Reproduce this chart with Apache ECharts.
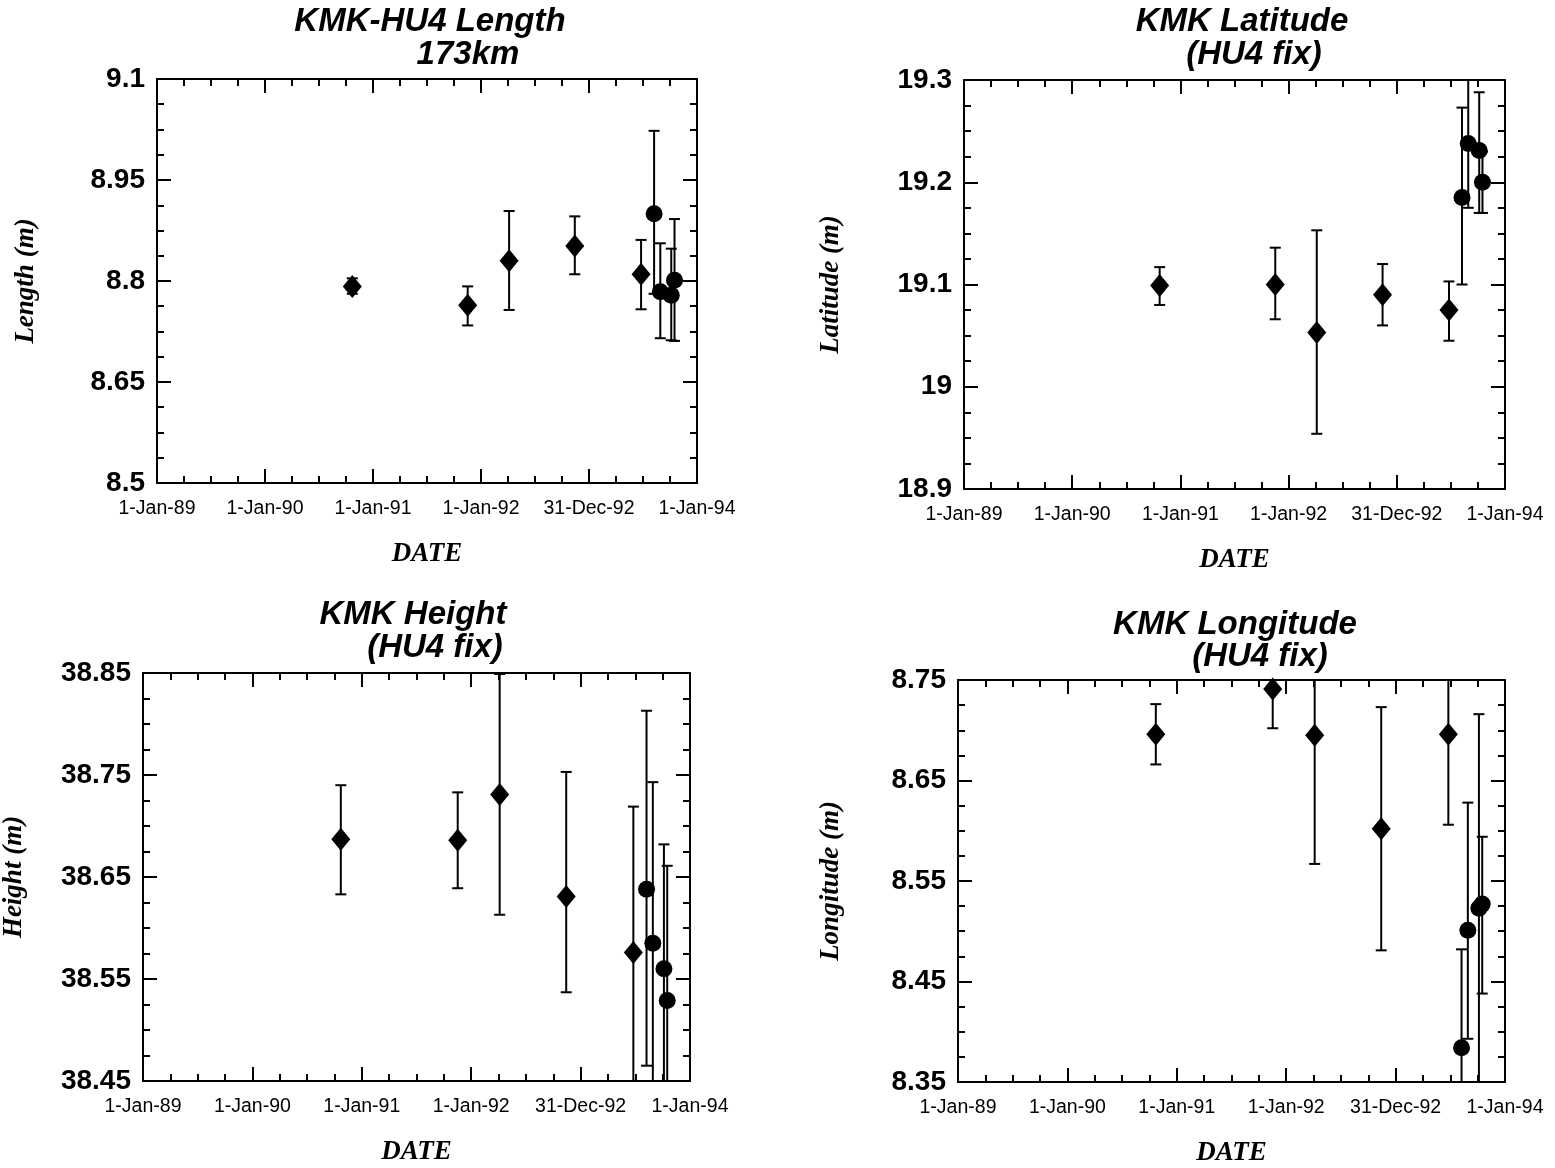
<!DOCTYPE html>
<html><head><meta charset="utf-8">
<script src="https://cdn.jsdelivr.net/npm/echarts@6/dist/echarts.min.js"></script>
<style>html,body{margin:0;padding:0;background:#fff}#c{width:1555px;height:1168px}</style>
</head><body><div id="c"></div>
<script>
// ---- data ----
const xTickLabels = ['1-Jan-89','1-Jan-90','1-Jan-91','1-Jan-92','31-Dec-92','1-Jan-94'];
const diamondDates = ['1990-10-23','1991-11-17','1992-04-05','1992-11-13','1993-06-25'];
const circleDates  = ['1993-08-08','1993-08-29','1993-10-05','1993-10-16'];

// KMK-HU4 Length
const lenDiamond     = [8.792, 8.764, 8.830, 8.852, 8.810];
const lenDiamondHigh = [8.804, 8.792, 8.904, 8.896, 8.861];
const lenDiamondLow  = [8.781, 8.734, 8.757, 8.810, 8.758];
const lenCircle      = [8.900, 8.784, 8.779, 8.801];
const lenCircleHigh  = [9.023, 8.856, 8.848, 8.892];
const lenCircleLow   = [8.781, 8.715, 8.712, 8.711];
const lenTicks = ['8.5','8.65','8.8','8.95','9.1'];

// KMK Latitude
const latDiamond     = [19.099, 19.100, 19.053, 19.090, 19.075];
const latDiamondHigh = [19.117, 19.136, 19.153, 19.120, 19.103];
const latDiamondLow  = [19.080, 19.066, 18.954, 19.060, 19.045];
const latCircle      = [19.185, 19.238, 19.231, 19.200];
const latCircleHigh  = [19.273, 19.300, 19.288, 19.230];
const latCircleLow   = [19.100, 19.175, 19.170, 19.170];
const latTicks = ['18.9','19','19.1','19.2','19.3'];

// KMK Height
const hgtDiamond     = [38.687, 38.686, 38.731, 38.631, 38.576];
const hgtDiamondHigh = [38.740, 38.733, 38.849, 38.753, 38.719];
const hgtDiamondLow  = [38.633, 38.639, 38.613, 38.537, 38.433];
const hgtCircle      = [38.638, 38.585, 38.560, 38.529];
const hgtCircleHigh  = [38.813, 38.743, 38.682, 38.661];
const hgtCircleLow   = [38.465, 38.427, 38.438, 38.397];
const hgtTicks = ['38.45','38.55','38.65','38.75','38.85'];

// KMK Longitude
const lonDiamond     = [8.696, 8.741, 8.695, 8.602, 8.696];
const lonDiamondHigh = [8.726, 8.780, 8.823, 8.723, 8.788];
const lonDiamondLow  = [8.666, 8.702, 8.567, 8.481, 8.606];
const lonCircle      = [8.384, 8.501, 8.523, 8.527];
const lonCircleHigh  = [8.482, 8.628, 8.716, 8.594];
const lonCircleLow   = [8.286, 8.393, 8.330, 8.438];
const lonTicks = ['8.35','8.45','8.55','8.65','8.75'];

// ---- helpers ----
const DAY = 86400000;
function toYear(s){
  const p = s.split('-').map(Number);
  return 1989 + (Date.UTC(p[0], p[1]-1, p[2]) - Date.UTC(1989,0,1)) / (365*DAY);
}
const dX = diamondDates.map(toYear);
const cX = circleDates.map(toYear);

const panels = [
  {title:['KMK-HU4 Length','173km'], tpos:[[430,22],[468,55]], yname:'Length (m)',
   grid:{left:157, top:79, width:540, height:404}, min:8.5, max:9.1, interval:0.15, ticks:lenTicks,
   d:lenDiamond, dh:lenDiamondHigh, dl:lenDiamondLow, c:lenCircle, ch:lenCircleHigh, cl:lenCircleLow, ynameGap:117},
  {title:['KMK Latitude','(HU4 fix)'], tpos:[[1242,22],[1254,55]], yname:'Latitude (m)',
   grid:{left:964, top:80, width:541, height:409}, min:18.9, max:19.3, interval:0.1, ticks:latTicks,
   d:latDiamond, dh:latDiamondHigh, dl:latDiamondLow, c:latCircle, ch:latCircleHigh, cl:latCircleLow, ynameGap:119},
  {title:['KMK Height','(HU4 fix)'], tpos:[[413,615],[435,648]], yname:'Height (m)',
   grid:{left:137, top:673, width:553, height:408}, min:38.45, max:38.85, interval:0.1, ticks:hgtTicks,
   d:hgtDiamond, dh:hgtDiamondHigh, dl:hgtDiamondLow, c:hgtCircle, ch:hgtCircleHigh, cl:hgtCircleLow, ynameGap:115},
  {title:['KMK Longitude','(HU4 fix)'], tpos:[[1235,625],[1260,657]], yname:'Longitude (m)',
   grid:{left:958, top:680, width:547, height:408}, min:8.35, max:8.75, interval:0.1, ticks:lonTicks,
   d:lonDiamond, dh:lonDiamondHigh, dl:lonDiamondLow, c:lonCircle, ch:lonCircleHigh, cl:lonCircleLow, ynameGap:113}
];

const BLACK = '#000';
const lineSt = {color:BLACK, width:2};
function renderErr(params, api){
  const x = api.value(0), lo = api.value(1), hi = api.value(2);
  const a = api.coord([x, lo]), b = api.coord([x, hi]);
  const w = 5.5, st = {stroke:BLACK, lineWidth:2};
  return {type:'group', children:[
    {type:'line', shape:{x1:a[0], y1:a[1], x2:b[0], y2:b[1]}, style:st},
    {type:'line', shape:{x1:b[0]-w, y1:b[1], x2:b[0]+w, y2:b[1]}, style:st},
    {type:'line', shape:{x1:a[0]-w, y1:a[1], x2:a[0]+w, y2:a[1]}, style:st}
  ]};
}

const option = {backgroundColor:'#fff', animation:false, grid:[], xAxis:[], yAxis:[], series:[], graphic:[]};
panels.forEach((p, i) => {
  option.grid.push(Object.assign({containLabel:false}, p.grid));
  const xBase = {gridIndex:i, type:'value', min:1989, max:1994, interval:1,
    axisLine:{show:true, onZero:false, lineStyle:lineSt},
    axisTick:{show:true, inside:true, length:14, lineStyle:lineSt},
    minorTick:{show:true, splitNumber:4, length:7, lineStyle:lineSt},
    splitLine:{show:false}, minorSplitLine:{show:false}};
  option.xAxis.push(Object.assign({}, xBase, {position:'bottom',
    axisLabel:{show:true, margin:16, color:BLACK, fontSize:19.5, fontFamily:'Liberation Sans',
      formatter:v => xTickLabels[Math.round(v-1989)] || ''},
    name:'DATE', nameLocation:'middle', nameGap:58,
    nameTextStyle:{fontFamily:'Liberation Serif', fontStyle:'italic', fontWeight:'bold', fontSize:27, color:BLACK}}));
  option.xAxis.push(Object.assign({}, xBase, {position:'top', axisLabel:{show:false}}));
  const yBase = {gridIndex:i, type:'value', min:p.min, max:p.max, interval:p.interval,
    axisLine:{show:true, onZero:false, lineStyle:lineSt},
    axisTick:{show:true, inside:true, length:14, lineStyle:lineSt},
    minorTick:{show:true, splitNumber:4, length:7, lineStyle:lineSt},
    splitLine:{show:false}, minorSplitLine:{show:false}};
  option.yAxis.push(Object.assign({}, yBase, {position:'left',
    axisLabel:{show:true, margin:12, color:BLACK, fontSize:28, fontWeight:'bold', fontFamily:'Liberation Sans',
      formatter:v => p.ticks[Math.round((v-p.min)/p.interval)] || ''},
    name:p.yname, nameLocation:'middle', nameGap:p.ynameGap, nameRotate:90,
    nameTextStyle:{fontFamily:'Liberation Serif', fontStyle:'italic', fontWeight:'bold', fontSize:27, color:BLACK}}));
  option.yAxis.push(Object.assign({}, yBase, {position:'right', axisLabel:{show:false}}));
  const xi = 2*i, yi = 2*i;
  const errData = dX.map((x,k)=>[x, p.dl[k], p.dh[k]]).concat(cX.map((x,k)=>[x, p.cl[k], p.ch[k]]));
  option.series.push({type:'custom', xAxisIndex:xi, yAxisIndex:yi, clip:true, renderItem:renderErr,
    encode:{x:0, y:[1,2]}, data:errData, silent:true});
  option.series.push({type:'scatter', xAxisIndex:xi, yAxisIndex:yi, symbol:'diamond', symbolSize:[19,23],
    itemStyle:{color:BLACK, opacity:1}, data:dX.map((x,k)=>[x, p.d[k]]), silent:true});
  option.series.push({type:'scatter', xAxisIndex:xi, yAxisIndex:yi, symbol:'circle', symbolSize:17,
    itemStyle:{color:BLACK, opacity:1}, data:cX.map((x,k)=>[x, p.c[k]]), silent:true});
  p.title.forEach((t, j) => {
    option.graphic.push({type:'text', x:p.tpos[j][0], y:p.tpos[j][1],
      style:{text:t, fill:BLACK, font:'italic bold 33px "Liberation Sans"', align:'center', verticalAlign:'middle',
        textAlign:'center', textVerticalAlign:'middle'}});
  });
});

const chart = echarts.init(document.getElementById('c'), null, {renderer:'canvas'});
chart.setOption(option);
</script></body></html>
